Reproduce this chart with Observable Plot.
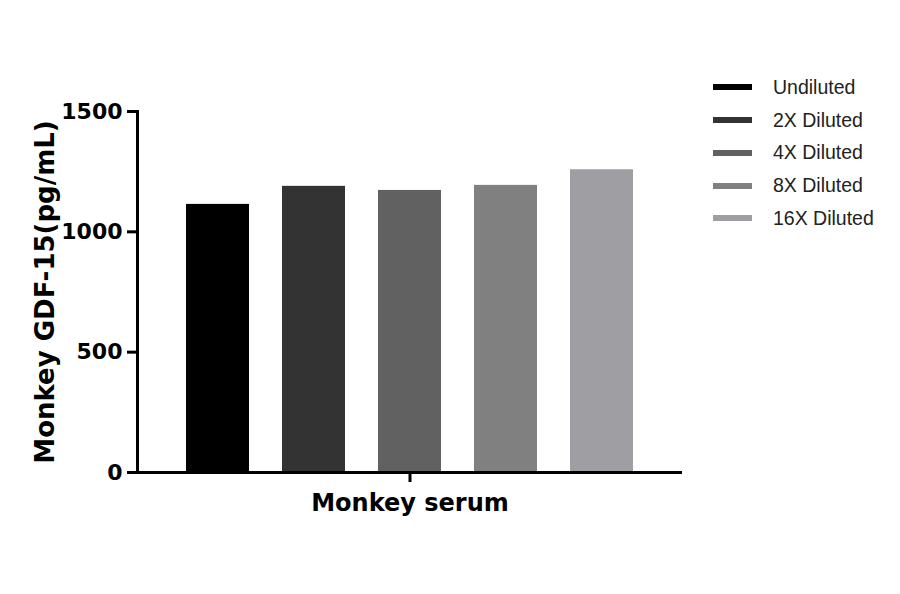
<!DOCTYPE html>
<html><head><meta charset="utf-8">
<script src="https://cdn.jsdelivr.net/npm/d3@7"></script>
<script src="https://cdn.jsdelivr.net/npm/@observablehq/plot@0.6"></script>
<style>
body{margin:0;background:#fff}
#wrap{position:relative;width:900px;height:594px}
#legend{position:absolute;left:713px;top:71px;font-family:"Liberation Sans",Arial,sans-serif;font-size:19.5px;color:#222}
.row{display:flex;align-items:center;height:32.75px}
.sw{width:39px;height:6px;margin-right:21px}
</style></head>
<body><div id="wrap"><div id="legend"></div></div>
<script>
const series = ["Undiluted","2X Diluted","4X Diluted","8X Diluted","16X Diluted"];
const values = [1114,1189,1172,1193,1258];
const colors = ["#000000","#333333","#616161","#808080","#9f9fa3"];
const category = "Monkey serum";
const yTicks = [0,500,1000,1500];
const yLabel = "Monkey GDF-15(pg/mL)";

const data = series.map((s,i)=>({group:category, series:s, value:values[i]}));
const font = "'DejaVu Sans', sans-serif";

const chart = Plot.plot({
  width:900, height:594,
  marginLeft:137, marginRight:218, marginTop:111, marginBottom:122,
  style:{fontFamily:font, color:"#000", background:"#fff"},
  fx:{padding:0, label:null},
  x:{domain:series, paddingInner:0.34, paddingOuter:0.5, axis:null},
  y:{domain:[0,1500]},
  color:{domain:series, range:colors},
  marks:[
    Plot.barY(data,{fx:"group", x:"series", y:"value", fill:"series"}),
    Plot.frame({anchor:"left", strokeWidth:3}),
    Plot.ruleY([0],{strokeWidth:3}),
    Plot.axisY({ticks:yTicks, tickFormat:d=>String(d), tickSize:10, tickPadding:5, strokeWidth:3, fontSize:22, fontWeight:"bold", label:null}),
    Plot.text([yLabel],{frameAnchor:"left", textAnchor:"middle", rotate:-90, dx:-92, fontSize:26, fontWeight:"bold", fill:"#000"}),
    Plot.axisFx({anchor:"bottom", tickSize:10, tickPadding:11, strokeWidth:3, fontSize:24, fontWeight:"bold", label:null})
  ]
});
document.getElementById("wrap").prepend(chart);

const legend = document.getElementById("legend");
series.forEach((s,i)=>{
  const r = document.createElement("div"); r.className="row";
  const sw = document.createElement("div"); sw.className="sw"; sw.style.background=colors[i];
  const t = document.createElement("span"); t.textContent=s;
  r.append(sw,t); legend.append(r);
});
</script></body></html>
